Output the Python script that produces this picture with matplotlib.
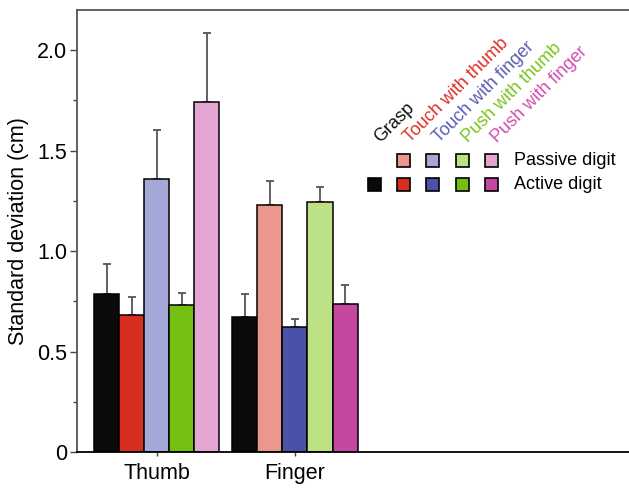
import numpy as np
import matplotlib
matplotlib.use("Agg")
import matplotlib.pyplot as plt
from matplotlib.patches import Rectangle
from matplotlib.ticker import MultipleLocator, FixedLocator

plt.rcParams['font.family'] = ['Liberation Sans', 'DejaVu Sans']

# ─── data ─────────────────────────────────────────────────────────────────────
groups = ["Thumb", "Finger"]
conditions = ["Grasp", "Touch with thumb", "Touch with finger", "Push with thumb", "Push with finger"]
thumb_sd = [0.785, 0.683, 1.357, 0.730, 1.740]
thumb_err = [0.150, 0.087, 0.248, 0.060, 0.346]
finger_sd = [0.670, 1.227, 0.622, 1.242, 0.736]
finger_err = [0.115, 0.123, 0.038, 0.078, 0.093]

# active / passive shades per condition (Grasp has no passive version)
active_colors = ["#0a0a0a", "#d82e1e", "#4a52a8", "#74c012", "#c647a0"]
passive_colors = [None, "#ec968c", "#a3a8d6", "#bde286", "#e4a5d2"]
label_colors = ["#111111", "#e0302a", "#5b5fb5", "#7cc520", "#d050b0"]
# which digit is passive in each group
thumb_passive = [False, False, True, False, True]
finger_passive = [False, True, False, True, False]

# ─── figure ───────────────────────────────────────────────────────────────────
fig = plt.figure(figsize=(6.29, 4.90), dpi=100)
ax = fig.add_axes([77/629, 38/490, 1 - 77/629, 442/490])

w = 0.181
xpos = np.array([1.0, 2.0])
err_kw = dict(ecolor="#555555", elinewidth=1.3, capsize=2.6, capthick=1.3)
for g, (sd, er, pas) in enumerate([(thumb_sd, thumb_err, thumb_passive),
                                   (finger_sd, finger_err, finger_passive)]):
    for i in range(len(conditions)):
        col = passive_colors[i] if pas[i] else active_colors[i]
        ax.bar(xpos[g] + (i - 2) * w, sd[i], w, color=col, edgecolor="black",
               linewidth=1.1, zorder=2)
        ax.errorbar(xpos[g] + (i - 2) * w, sd[i], yerr=[[0], [er[i]]], fmt="none",
                    zorder=1, **err_kw)

ax.set_xlim(0.424, 4.415)
ax.set_ylim(0, 2.2)
ax.xaxis.set_major_locator(FixedLocator(xpos))
ax.set_xticklabels(groups)
ax.yaxis.set_major_locator(MultipleLocator(0.5))
ax.yaxis.set_minor_locator(MultipleLocator(0.25))
ax.yaxis.set_major_formatter(plt.FuncFormatter(lambda v, p: "0" if v == 0 else f"{v:.1f}"))
ax.tick_params(axis="y", which="major", length=5, width=1, color="#444444", labelsize=15.5, pad=2)
ax.tick_params(axis="y", which="minor", length=3, width=1, color="#444444")
ax.tick_params(axis="x", length=3, width=1, color="#444444", labelsize=15.5, pad=5)
ax.set_ylabel("Standard deviation (cm)", fontsize=15.5, labelpad=6)

ax.spines["right"].set_visible(False)
for s in ["left", "top"]:
    ax.spines[s].set_color("#555555")
    ax.spines[s].set_linewidth(1.3)
ax.spines["bottom"].set_color("black")
ax.spines["bottom"].set_linewidth(1.3)

# ─── custom legend (pixel coords overlay) ─────────────────────────────────────
lg = fig.add_axes([0, 0, 1, 1], facecolor="none")
lg.set_xlim(0, 629)
lg.set_ylim(490, 0)
lg.axis("off")

col_x0, col_dx = 374.3, 29.3
row_y = {"passive": 160, "active": 184}
sq = 13
for i, name in enumerate(conditions):
    cx = col_x0 + i * col_dx
    lg.text(cx + 6, 143, name, rotation=45, rotation_mode="anchor", ha="left",
            va="baseline", fontsize=13, color=label_colors[i])
    if passive_colors[i] is not None:
        lg.add_patch(Rectangle((cx - sq/2, row_y["passive"] - sq/2), sq, sq,
                               facecolor=passive_colors[i], edgecolor="black", linewidth=1.2))
    lg.add_patch(Rectangle((cx - sq/2, row_y["active"] - sq/2), sq, sq,
                           facecolor=active_colors[i], edgecolor="black", linewidth=1.2))

lg.text(514, row_y["passive"], "Passive digit", fontsize=13, va="center", ha="left")
lg.text(514, row_y["active"], "Active digit", fontsize=13, va="center", ha="left")

fig.savefig("out.png", dpi=100)
